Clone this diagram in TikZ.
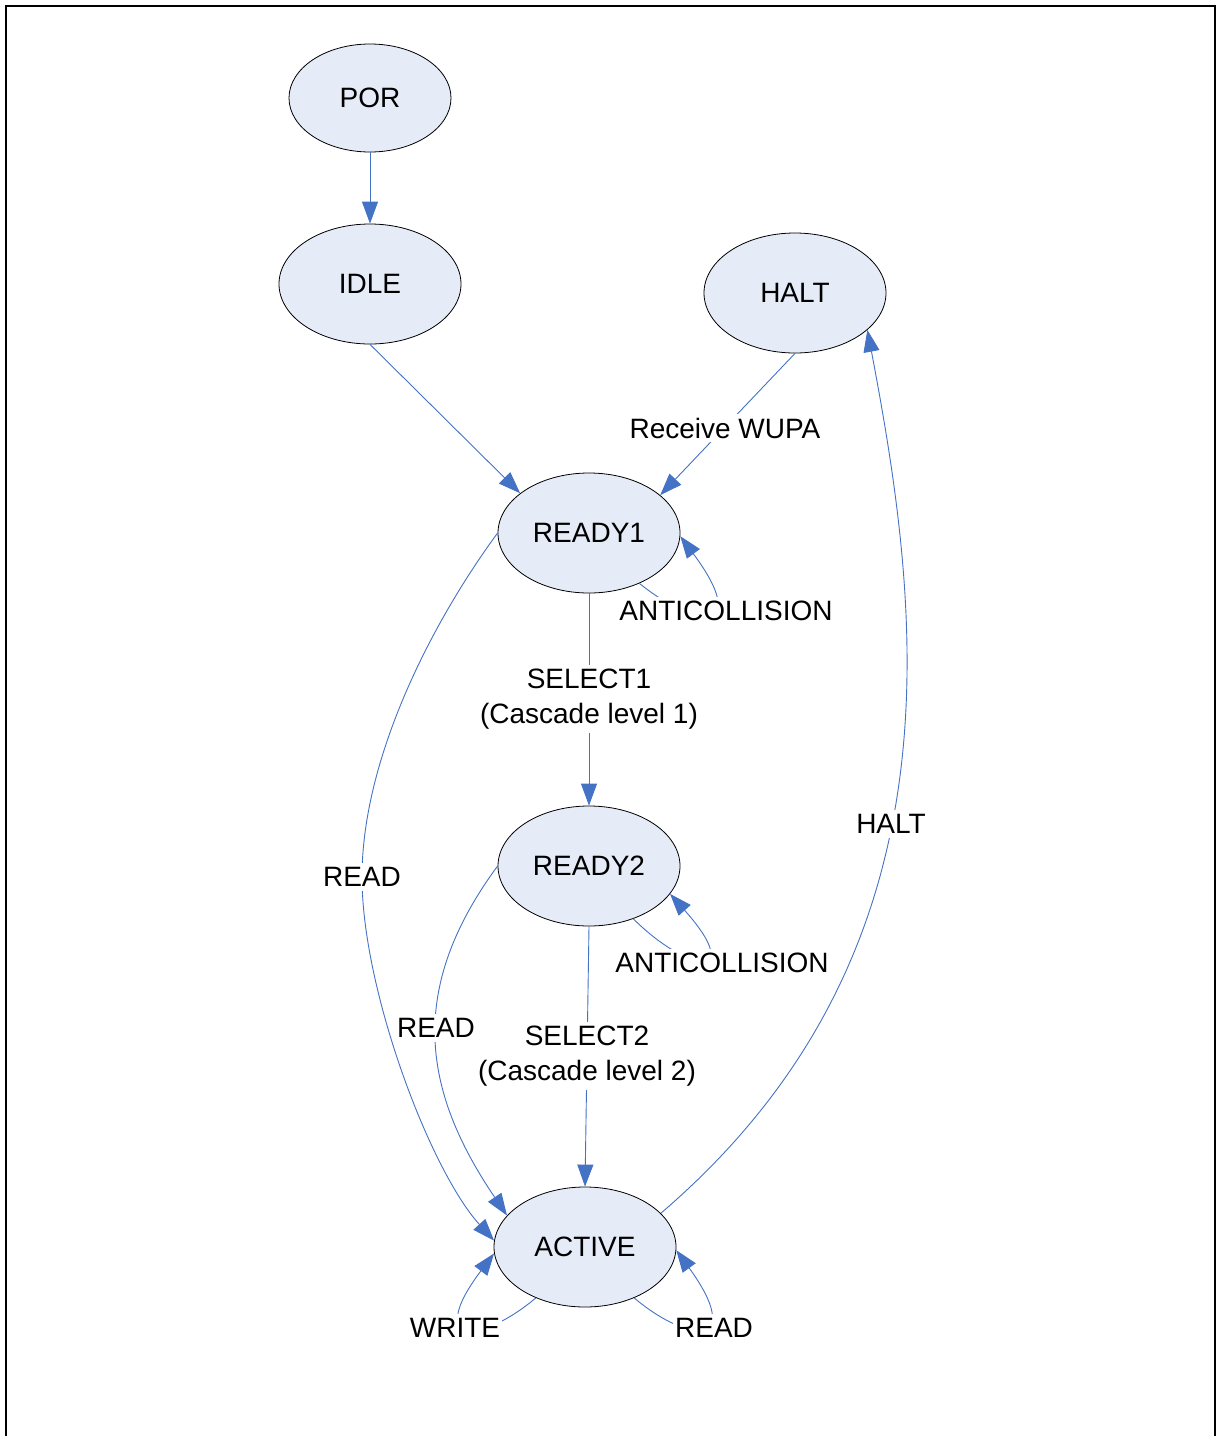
\documentclass[tikz,border=0pt]{standalone}
\usepackage{fontspec}
\setmainfont{Liberation Sans}
\usetikzlibrary{arrows.meta,shapes.geometric}
\definecolor{edgeblue}{RGB}{68,114,196}
\definecolor{statefill}{RGB}{230,236,247}
\begin{document}
\begin{tikzpicture}[x=1pt,y=-1pt,
  state/.style={ellipse,draw=black,line width=0.8pt,fill=statefill,
    minimum width=182pt,minimum height=120pt,inner sep=0pt,
    font=\fontsize{28}{35}\selectfont},
  conn/.style={draw=edgeblue,line width=0.9pt,-{Triangle[length=22pt,width=16pt]}},
  lbl/.style={fill=white,inner xsep=2pt,inner ysep=4pt,
    font=\fontsize{28}{35}\selectfont,align=center}]
\useasboundingbox (0,0) rectangle (1221,1436);
\draw[line width=2.5pt] (6,1445) -- (6,6) -- (1215,6) -- (1215,1445);

% states
\node[state,minimum width=162pt,minimum height=108pt] (por) at (370,98) {POR};
\node[state] (idle) at (370,284) {IDLE};
\node[state] (halt) at (795,293) {HALT};
\node[state] (ready1) at (589,533) {READY1};
\node[state] (ready2) at (589,866) {READY2};
\node[state] (active) at (585,1247) {ACTIVE};

% waypoint of the long READ connector
\coordinate (readmid) at (362,877);

% connectors
\draw[conn] (por.south) -- (idle.north);
\draw[conn] (idle.south) -- (ready1.150);
\draw[conn] (halt.south) -- (ready1.28);
\draw[conn] (ready1.-45) .. controls (700,632) and (750,630) .. (ready1.-2);
\draw[conn] (ready1.south) -- (ready2.north);
\draw[conn] (ready2.-50) .. controls (690,975) and (745,978) .. (ready2.-19);
\draw[conn] (ready2.south) -- (active.north);
\draw[conn] (ready1.west) .. controls (430,625) and (362,760) .. (readmid)
   .. controls (362,990) and (430,1170) .. (active.176);
\draw[conn] (ready2.west) .. controls (407,989) and (422,1090) .. (active.158);
\draw[conn] (active.24) .. controls (966,952) and (921,613) .. (halt.-27);
\draw[conn] (active.-134) .. controls (480,1345) and (425,1345) .. (active.-176);
\draw[conn] (active.-46) .. controls (690,1345) and (745,1345) .. (active.-2);

% labels
\node[lbl] (lwupa) at (725,428) {Receive WUPA};
\node[lbl] (lanti1) at (726,611) {ANTICOLLISION};
\node[lbl] (lsel1) at (589,699) {SELECT1\\(Cascade level 1)};
\node[lbl] (lanti2) at (722,963) {ANTICOLLISION};
\node[lbl] (lsel2) at (587,1056) {SELECT2\\(Cascade level 2)};
\node[lbl] (lread1) at (readmid) {READ};
\node[lbl] (lread2) at (436,1028) {READ};
\node[lbl] (lhalt) at (891,824) {HALT};
\node[lbl] (lwrite) at (455,1328) {WRITE};
\node[lbl] (lread3) at (714,1328) {READ};
\end{tikzpicture}
\end{document}
